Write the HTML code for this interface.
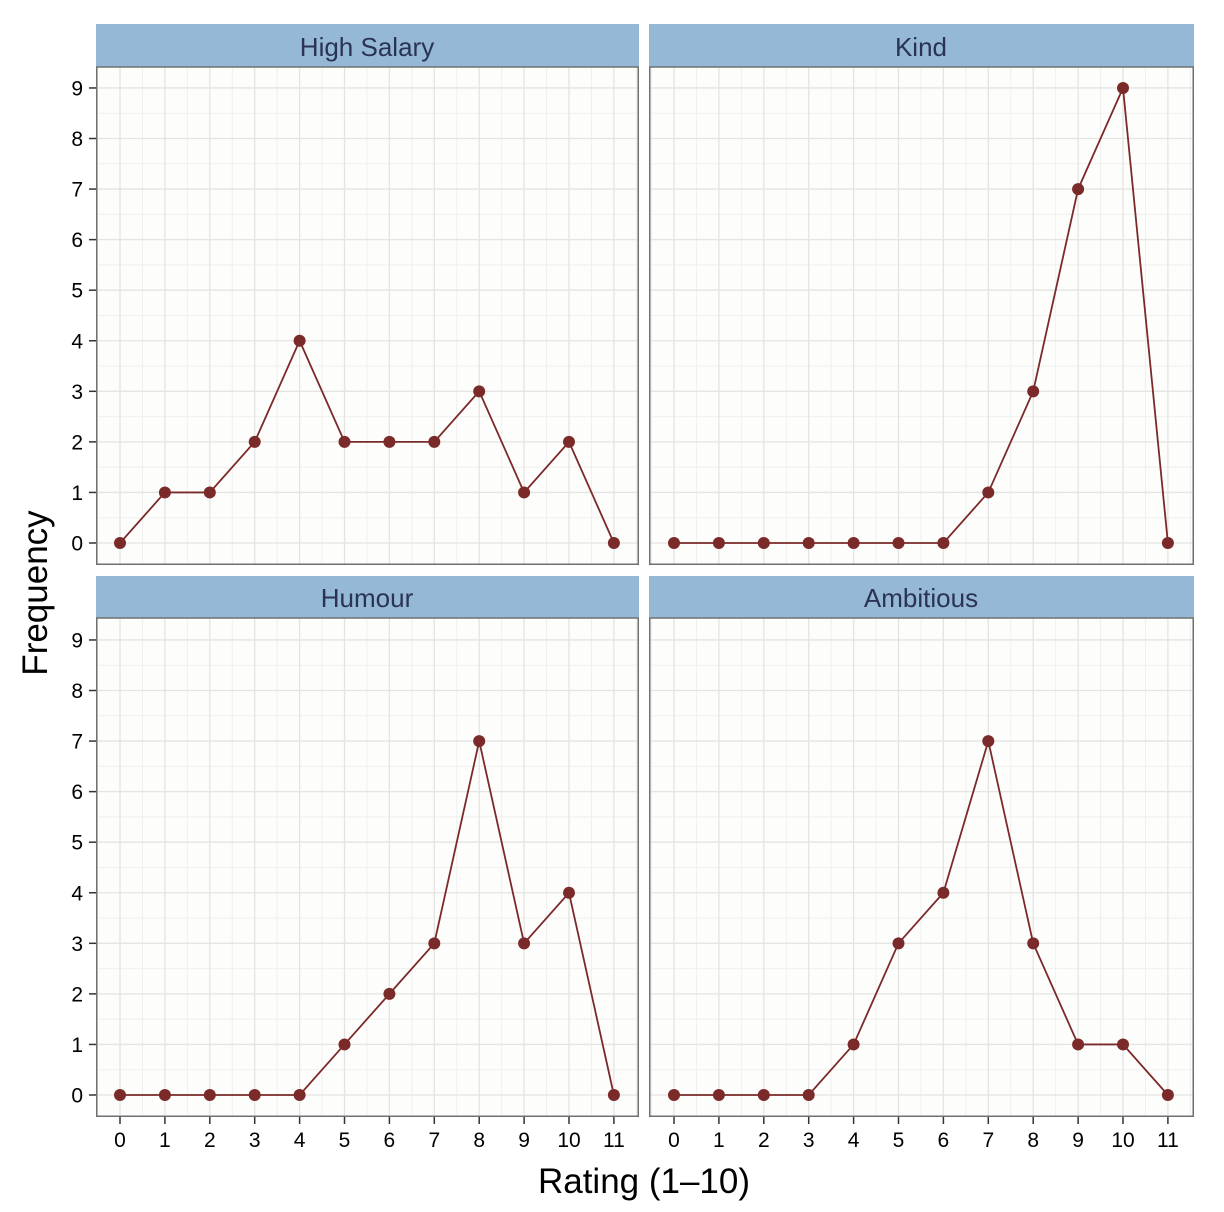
<!DOCTYPE html>
<html><head><style>body{margin:0;background:#fff}svg{display:block}</style></head>
<body>
<svg id="s" width="1224" height="1212" viewBox="0 0 1224 1212" font-family="Liberation Sans, sans-serif">
<g id="g"></g>
<g font-size="26" fill="#2b3355" text-anchor="middle">
<text x="367" y="56">High Salary</text>
<text x="921" y="56">Kind</text>
<text x="367" y="607">Humour</text>
<text x="921" y="607">Ambitious</text>
</g>
<g font-size="21" fill="#000" text-anchor="end" id="yl"></g>
<g font-size="21" fill="#000" text-anchor="middle" id="xl"></g>
<text x="644" y="1193" font-size="35" text-anchor="middle">Rating (1–10)</text>
<text transform="translate(47,593) rotate(-90)" font-size="35" text-anchor="middle">Frequency</text>
</svg>
<script>
var g=document.getElementById('g'),NS='http://www.w3.org/2000/svg';
function el(t,a,p){var e=document.createElementNS(NS,t);for(var k in a)e.setAttribute(k,a[k]);(p||g).appendChild(e);return e;}
var panels=[[96,639,24,67,565,543,120,[0,1,1,2,4,2,2,2,3,1,2,0]],
[649,1194,24,67,565,543,674,[0,0,0,0,0,0,0,1,3,7,9,0]],
[96,639,576,618,1117,1095,120,[0,0,0,0,0,1,2,3,7,3,4,0]],
[649,1194,576,618,1117,1095,674,[0,0,0,0,1,3,4,7,3,1,1,0]]];
var dy=50.56,dx=44.9;
panels.forEach(function(p,i){
 var x0=p[0],x1=p[1],st=p[2],t=p[3],b=p[4],y0=p[5],xo=p[6],d=p[7];
 el('rect',{x:x0,y:st,width:x1-x0,height:t-st,fill:'#94b8d6'});
 el('rect',{x:x0,y:t,width:x1-x0,height:b-t,fill:'#fdfdfb'});
 for(var k=0;k<=8;k++){var y=y0-dy*(k+.5);el('line',{x1:x0,x2:x1,y1:y,y2:y,stroke:'#f0f0ee','stroke-width':1});}
 for(var k=-1;k<=11;k++){var x=xo+dx*(k+.5);el('line',{x1:x,x2:x,y1:t,y2:b,stroke:'#f0f0ee','stroke-width':1});}
 for(var k=0;k<=9;k++){var y=y0-dy*k;el('line',{x1:x0,x2:x1,y1:y,y2:y,stroke:'#e4e4e2','stroke-width':1.3});}
 for(var k=0;k<=11;k++){var x=xo+dx*k;el('line',{x1:x,x2:x,y1:t,y2:b,stroke:'#e4e4e2','stroke-width':1.3});}
 el('rect',{x:x0+.75,y:t,width:x1-x0-1.5,height:b-t-.75,fill:'none',stroke:'#707070','stroke-width':1.5});
 var pts=d.map(function(v,k){return (xo+dx*k)+','+(y0-dy*v)}).join(' ');
 el('polyline',{points:pts,fill:'none',stroke:'#7b2a2a','stroke-width':1.8});
 d.forEach(function(v,k){el('circle',{cx:xo+dx*k,cy:y0-dy*v,r:6,fill:'#7b2a2a'});});
 if(i%2==0){for(var k=0;k<=9;k++){var y=y0-dy*k;el('line',{x1:89,x2:96,y1:y,y2:y,stroke:'#333','stroke-width':1.5});
   var tx=el('text',{x:83,y:y+7.5},document.getElementById('yl'));tx.textContent=k;}}
 if(i>=2){for(var k=0;k<=11;k++){var x=xo+dx*k;el('line',{x1:x,x2:x,y1:1117,y2:1124,stroke:'#333','stroke-width':1.5});
   var tx=el('text',{x:x,y:1147},document.getElementById('xl'));tx.textContent=k;}}
});
</script>
</body></html>
